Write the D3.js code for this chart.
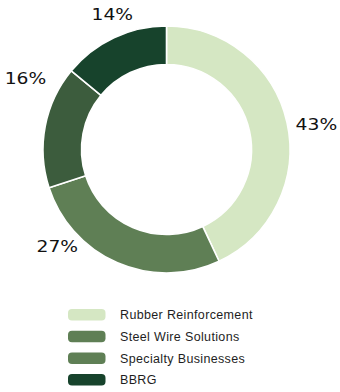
<!DOCTYPE html>
<html>
<head>
<meta charset="utf-8">
<script src="https://cdn.jsdelivr.net/npm/d3@7"></script>
<style>
  html, body { margin: 0; padding: 0; background: #ffffff; }
  svg { display: block; }
</style>
</head>
<body>
<svg id="chart" width="340" height="392"></svg>
<script>
// Revenue split by segment
const categories = ["Rubber Reinforcement", "Steel Wire Solutions", "Specialty Businesses", "BBRG"];
const shares = [43, 27, 16, 14];
const sliceColors = ["#d5e7c3", "#5f7f55", "#3c5c3d", "#17432c"];
const legendColors = ["#d5e7c3", "#5f7f55", "#5f7f55", "#17432c"];
// Percentage label placement: angular nudge (degrees) and distance from centre
const labelNudge = [3, 25, 16, 3.4];
const labelRadius = [152, 146, 158, 146];

const svg = d3.select("#chart");
const cx = 166.5, cy = 149.5;
const outerR = 123.5, innerR = 85;

const pie = d3.pie().sort(null).value(d => d);
const arcs = pie(shares);
const arc = d3.arc().innerRadius(innerR).outerRadius(outerR);

const g = svg.append("g").attr("transform", `translate(${cx},${cy})`);

g.selectAll("path.slice")
  .data(arcs)
  .join("path")
  .attr("class", "slice")
  .attr("d", arc)
  .attr("fill", (d, i) => sliceColors[i])
  .attr("stroke", "#ffffff")
  .attr("stroke-width", 1.6);

// Wide display lettering for the percentages
g.selectAll("text.pct")
  .data(arcs)
  .join("text")
  .attr("class", "pct")
  .attr("transform", (d, i) => {
    const a = (d.startAngle + d.endAngle) / 2 + labelNudge[i] * Math.PI / 180;
    const r = labelRadius[i];
    return `translate(${r * Math.sin(a)},${-r * Math.cos(a)}) scale(1.17,1)`;
  })
  .attr("text-anchor", "middle")
  .attr("dy", "0.36em")
  .attr("font-family", "DejaVu Sans, sans-serif")
  .attr("font-size", 16)
  .attr("fill", "#111111")
  .text(d => d.data + "%");

// Legend
const legend = svg.append("g").attr("transform", "translate(68,309)");
const rowH = 21.7;
const rows = legend.selectAll("g.row")
  .data(categories)
  .join("g")
  .attr("class", "row")
  .attr("transform", (d, i) => `translate(0,${i * rowH})`);

rows.append("rect")
  .attr("width", 37.5)
  .attr("height", 11.5)
  .attr("rx", 4)
  .attr("fill", (d, i) => legendColors[i]);

rows.append("text")
  .attr("x", 52)
  .attr("y", 5.8)
  .attr("dy", "0.35em")
  .attr("font-family", "Liberation Sans, Arial, sans-serif")
  .attr("font-size", 12.5)
  .attr("letter-spacing", 0.35)
  .attr("fill", "#1e1e1e")
  .text(d => d);
</script>
</body>
</html>
